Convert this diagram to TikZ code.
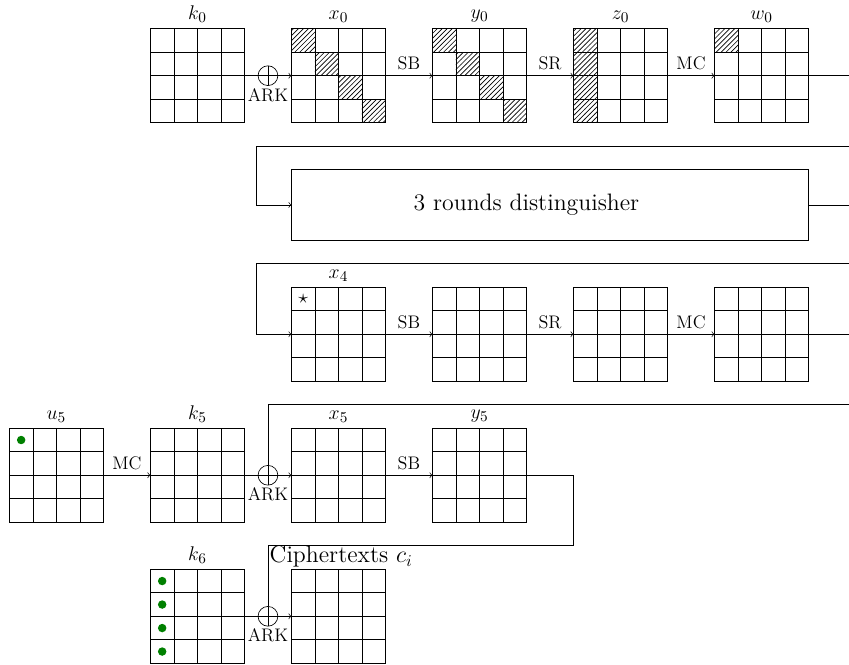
\documentclass[tikz,border=0pt]{standalone}
\usetikzlibrary{patterns,calc}
\definecolor{dotgreen}{RGB}{0,128,0}
\newcommand{\hcell}[3]{\fill[pattern=north east lines] ($(#1.north west)+(#2*0.5,-#3*0.5)$) rectangle ++(0.5,-0.5);}
\newcommand{\gdot}[3]{\fill[dotgreen] ($(#1.north west)+(#2*0.5+0.25,-#3*0.5-0.25)$) circle (0.09);}
\begin{document}
\begin{tikzpicture}[
  state/.style={draw, semithick, minimum size=2cm, inner sep=0pt, outer sep=0pt},
  gridline/.style={thin},
  xorc/.style={draw, circle, minimum size=0.42cm, inner sep=0pt, outer sep=0pt,
    path picture={\draw (path picture bounding box.north) -- (path picture bounding box.south)
      (path picture bounding box.west) -- (path picture bounding box.east);}},
  glabel/.style={font=\fontsize{12.5}{15}\selectfont},
  oplabel/.style={above, font=\fontsize{11}{13}\selectfont},
  arklabel/.style={label={[inner sep=1.5pt, font=\fontsize{11}{13}\selectfont]below:ARK}},
  >=to
]
\useasboundingbox (-0.2,-0.02) rectangle (17.86,14.11);

% ---------- row 1
\node[state, label={[glabel]above:$k_0$}] (k0) at (4,12.5) {};
\node[state, label={[glabel]above:$x_0$}] (x0) at (7,12.5) {};
\node[state, label={[glabel]above:$y_0$}] (y0) at (10,12.5) {};
\node[state, label={[glabel]above:$z_0$}] (z0) at (13,12.5) {};
\node[state, label={[glabel]above:$w_0$}] (w0) at (16,12.5) {};
\coordinate (r1e) at (17.86,12.5);

% ---------- distinguisher
\node[draw, minimum width=11cm, minimum height=1.5cm, inner sep=0pt, outer sep=0pt] (dist) at (11.5,9.75) {};
\node[font=\Large] (disttext) at (11,9.75) {3 rounds distinguisher};
\coordinate (l1a) at (17.86,11);
\coordinate (l1b) at (5.25,11);
\coordinate (de) at (17.86,9.75);

% ---------- row 3
\node[state, label={[glabel]above:$x_4$}] (x4) at (7,7) {};
\node[state] (r3b) at (10,7) {};
\node[state] (r3c) at (13,7) {};
\node[state] (r3d) at (16,7) {};
\coordinate (l3a) at (17.86,8.5);
\coordinate (l3b) at (5.25,8.5);
\coordinate (r3e) at (17.86,7);

% ---------- row 4
\node[state, label={[glabel]above:$u_5$}] (u5) at (1,4) {};
\node[state, label={[glabel]above:$k_5$}] (k5) at (4,4) {};
\node[state, label={[glabel]above:$x_5$}] (x5) at (7,4) {};
\node[state, label={[glabel]above:$y_5$}] (y5) at (10,4) {};
\coordinate (l4a) at (17.86,5.5);
\coordinate (r4b) at (12,2.5);

% ---------- row 5
\node[state, label={[glabel]above:$k_6$}] (k6) at (4,1) {};
\node[state] (ct) at (7,1) {};

% ---------- hatching and marks
\foreach \i in {0,1,2,3} {\hcell{x0}{\i}{\i} \hcell{y0}{\i}{\i} \hcell{z0}{0}{\i} \gdot{k6}{0}{\i}}
\hcell{w0}{0}{0}
\gdot{u5}{0}{0}
\node[inner sep=0pt, font=\large] (star) at ($(x4.north west)+(0.25,-0.25)$) {$\star$};

% ---------- inner grid lines
\foreach \g in {k0,x0,y0,z0,w0,x4,r3b,r3c,r3d,u5,k5,x5,y5,k6,ct} {
  \foreach \i in {1,2,3} {
    \draw[gridline] ($(\g.north west)!\i/4!(\g.north east)$) -- ($(\g.south west)!\i/4!(\g.south east)$);
    \draw[gridline] ($(\g.north west)!\i/4!(\g.south west)$) -- ($(\g.north east)!\i/4!(\g.south east)$);
  }
}

% ---------- connectors row 1
\draw[->] (k0.east) -- (x0.west);
\node[xorc, arklabel] (ark1) at (5.5,12.5) {};
\draw[->] (x0.east) -- node[oplabel] {SB} (y0.west);
\draw[->] (y0.east) -- node[oplabel] {SR} (z0.west);
\draw[->] (z0.east) -- node[oplabel] {MC} (w0.west);
\draw (w0.east) -- (r1e);

% ---------- distinguisher loop
\draw[->] (l1a) -- (l1b) |- (dist.west);
\draw (dist.east) -- (de);

% ---------- row 3
\draw[->] (l3a) -- (l3b) |- (x4.west);
\draw[->] (x4.east) -- node[oplabel] {SB} (r3b.west);
\draw[->] (r3b.east) -- node[oplabel] {SR} (r3c.west);
\draw[->] (r3c.east) -- node[oplabel] {MC} (r3d.west);
\draw (r3d.east) -- (r3e);

% ---------- row 4
\draw[->] (u5.east) -- node[oplabel] {MC} (k5.west);
\draw[->] (k5.east) -- (x5.west);
\node[xorc, arklabel] (ark2) at (5.5,4) {};
\draw (l4a) -| (ark2.north);
\draw[->] (x5.east) -- node[oplabel] {SB} (y5.west);

% ---------- row 5
\draw[->] (k6.east) -- (ct.west);
\node[xorc, arklabel] (ark3) at (5.5,1) {};
\draw (y5.east) -| (r4b) -| (ark3.north);
\node[font=\Large, anchor=north west, inner sep=0pt] (ctlabel) at (5.53,2.5) {Ciphertexts $c_i$};
\end{tikzpicture}
\end{document}
